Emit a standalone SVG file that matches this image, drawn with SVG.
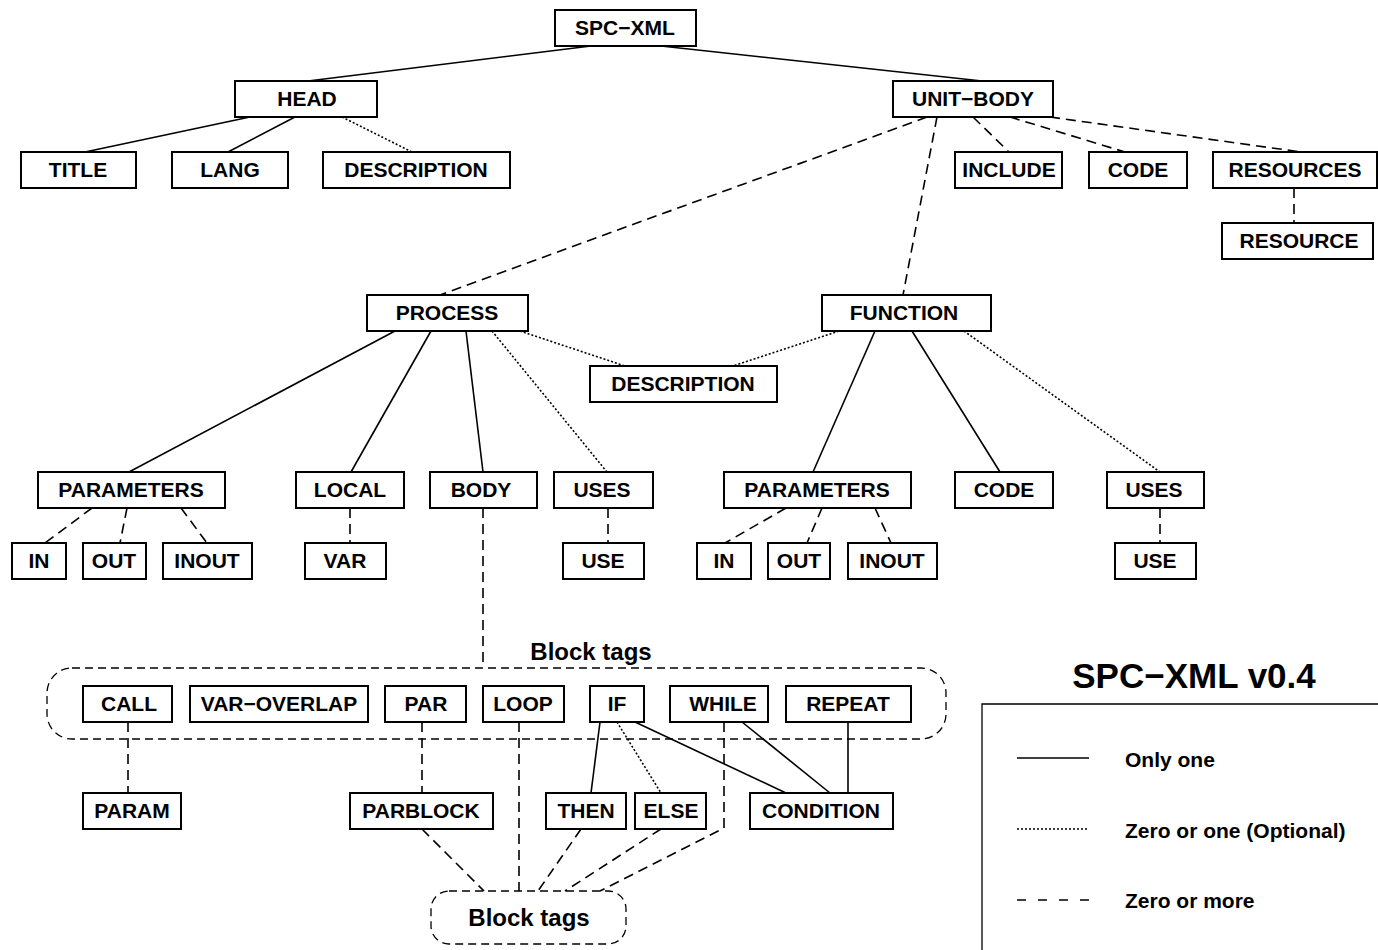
<svg xmlns="http://www.w3.org/2000/svg" width="1378" height="950" viewBox="0 0 1378 950">
<style>
.n rect{fill:#fff;stroke:#000;stroke-width:2}
.n text,.t{font-family:"Liberation Sans",Arial,sans-serif;font-weight:bold;font-size:21px;fill:#000;text-anchor:middle}
.c line,.c polyline{stroke:#000;stroke-width:1.6;fill:none}
.c .d{stroke-dasharray:10 6}
.c .o{stroke-dasharray:2 2}
.grp{fill:none;stroke:#000;stroke-width:1.3;stroke-dasharray:8 5}
</style>
<rect width="1378" height="950" fill="#fff"/>
<g class="c" id="connectors">
<line x1="591" y1="46" x2="308" y2="81"/>
<line x1="661" y1="46" x2="982" y2="81"/>
<line x1="250" y1="117" x2="85" y2="152"/>
<line x1="295" y1="117" x2="228" y2="152"/>
<line class="o" x1="342" y1="117" x2="412" y2="152"/>
<line class="d" x1="927" y1="117" x2="440" y2="295"/>
<line class="d" x1="937" y1="117" x2="903" y2="295"/>
<line class="d" x1="973" y1="117" x2="1009" y2="152"/>
<line class="d" x1="1010" y1="117" x2="1125" y2="152"/>
<line class="d" x1="1050" y1="117" x2="1301" y2="152"/>
<line class="d" x1="1294" y1="188" x2="1294" y2="223"/>
<line x1="395" y1="331" x2="129" y2="472"/>
<line x1="431" y1="331" x2="351" y2="472"/>
<line x1="466" y1="331" x2="483" y2="472"/>
<line class="o" x1="492" y1="331" x2="607" y2="472"/>
<line class="o" x1="520" y1="331" x2="625" y2="366"/>
<line class="o" x1="839" y1="331" x2="733" y2="366"/>
<line x1="875" y1="331" x2="813" y2="472"/>
<line x1="912" y1="331" x2="1000" y2="472"/>
<line class="o" x1="964" y1="331" x2="1160" y2="472"/>
<line class="d" x1="92" y1="508" x2="45" y2="543"/>
<line class="d" x1="127" y1="508" x2="120" y2="543"/>
<line class="d" x1="181" y1="508" x2="207" y2="543"/>
<line class="d" x1="350" y1="508" x2="350" y2="543"/>
<line class="d" x1="483" y1="508" x2="483" y2="668"/>
<line class="d" x1="608" y1="508" x2="608" y2="543"/>
<line class="d" x1="786" y1="508" x2="725" y2="543"/>
<line class="d" x1="822" y1="508" x2="807" y2="543"/>
<line class="d" x1="875" y1="508" x2="891" y2="543"/>
<line class="d" x1="1160" y1="508" x2="1160" y2="543"/>
<line class="d" x1="128" y1="722" x2="128" y2="793"/>
<line class="d" x1="422" y1="722" x2="422" y2="793"/>
<line class="d" x1="519" y1="722" x2="519" y2="891"/>
<line x1="600" y1="722" x2="591" y2="793"/>
<line class="o" x1="617" y1="722" x2="661" y2="793"/>
<line x1="635" y1="722" x2="786" y2="793"/>
<line x1="742" y1="722" x2="830" y2="793"/>
<line x1="848" y1="722" x2="848" y2="793"/>
<polyline class="d" points="724,722 724,828 600,891"/>
<line class="d" x1="422" y1="829" x2="484" y2="891"/>
<line class="d" x1="581" y1="829" x2="538" y2="891"/>
<line class="d" x1="661" y1="829" x2="565" y2="891"/>
</g>
<rect class="grp" x="47" y="668" width="899" height="71" rx="25"/>
<text class="t" x="591" y="660" style="font-size:24px">Block tags</text>
<g id="blocktags2"><rect class="grp" x="431" y="891" width="195" height="53" rx="18"/><text class="t" x="529" y="926" style="font-size:24px">Block tags</text></g>
<g class="n" id="spcxml"><rect x="555" y="10" width="141" height="36"/><text x="625" y="35">SPC−XML</text></g>
<g class="n" id="head"><rect x="235" y="81" width="142" height="36"/><text x="307" y="106">HEAD</text></g>
<g class="n" id="unitbody"><rect x="893" y="81" width="160" height="36"/><text x="973" y="106">UNIT−BODY</text></g>
<g class="n" id="title"><rect x="21" y="152" width="115" height="36"/><text x="78" y="177">TITLE</text></g>
<g class="n" id="lang"><rect x="172" y="152" width="116" height="36"/><text x="230" y="177">LANG</text></g>
<g class="n" id="description1"><rect x="323" y="152" width="187" height="36"/><text x="416" y="177">DESCRIPTION</text></g>
<g class="n" id="include"><rect x="955" y="152" width="107" height="36"/><text x="1009" y="177">INCLUDE</text></g>
<g class="n" id="code1"><rect x="1089" y="152" width="98" height="36"/><text x="1138" y="177">CODE</text></g>
<g class="n" id="resources"><rect x="1213" y="152" width="164" height="36"/><text x="1295" y="177">RESOURCES</text></g>
<g class="n" id="resource"><rect x="1222" y="223" width="151" height="36"/><text x="1299" y="248">RESOURCE</text></g>
<g class="n" id="process"><rect x="367" y="295" width="161" height="36"/><text x="447" y="320">PROCESS</text></g>
<g class="n" id="function"><rect x="822" y="295" width="169" height="36"/><text x="904" y="320">FUNCTION</text></g>
<g class="n" id="description2"><rect x="590" y="366" width="187" height="36"/><text x="683" y="391">DESCRIPTION</text></g>
<g class="n" id="parameters1"><rect x="38" y="472" width="187" height="36"/><text x="131" y="497">PARAMETERS</text></g>
<g class="n" id="local"><rect x="296" y="472" width="108" height="36"/><text x="350" y="497">LOCAL</text></g>
<g class="n" id="body"><rect x="430" y="472" width="107" height="36"/><text x="481" y="497">BODY</text></g>
<g class="n" id="uses1"><rect x="554" y="472" width="99" height="36"/><text x="602" y="497">USES</text></g>
<g class="n" id="in1"><rect x="12" y="543" width="54" height="36"/><text x="39" y="568">IN</text></g>
<g class="n" id="out1"><rect x="83" y="543" width="63" height="36"/><text x="114" y="568">OUT</text></g>
<g class="n" id="inout1"><rect x="163" y="543" width="89" height="36"/><text x="207" y="568">INOUT</text></g>
<g class="n" id="var"><rect x="305" y="543" width="81" height="36"/><text x="345" y="568">VAR</text></g>
<g class="n" id="use1"><rect x="563" y="543" width="81" height="36"/><text x="603" y="568">USE</text></g>
<g class="n" id="parameters2"><rect x="724" y="472" width="187" height="36"/><text x="817" y="497">PARAMETERS</text></g>
<g class="n" id="code2"><rect x="955" y="472" width="98" height="36"/><text x="1004" y="497">CODE</text></g>
<g class="n" id="uses2"><rect x="1107" y="472" width="97" height="36"/><text x="1154" y="497">USES</text></g>
<g class="n" id="in2"><rect x="697" y="543" width="54" height="36"/><text x="724" y="568">IN</text></g>
<g class="n" id="out2"><rect x="768" y="543" width="62" height="36"/><text x="799" y="568">OUT</text></g>
<g class="n" id="inout2"><rect x="848" y="543" width="89" height="36"/><text x="892" y="568">INOUT</text></g>
<g class="n" id="use2"><rect x="1115" y="543" width="81" height="36"/><text x="1155" y="568">USE</text></g>
<g class="n" id="call"><rect x="83" y="686" width="89" height="36"/><text x="129" y="711">CALL</text></g>
<g class="n" id="varoverlap"><rect x="190" y="686" width="178" height="36"/><text x="279" y="711">VAR−OVERLAP</text></g>
<g class="n" id="par"><rect x="385" y="686" width="81" height="36"/><text x="426" y="711">PAR</text></g>
<g class="n" id="loop"><rect x="483" y="686" width="81" height="36"/><text x="523" y="711">LOOP</text></g>
<g class="n" id="if"><rect x="590" y="686" width="54" height="36"/><text x="617" y="711">IF</text></g>
<g class="n" id="while"><rect x="670" y="686" width="98" height="36"/><text x="723" y="711">WHILE</text></g>
<g class="n" id="repeat"><rect x="786" y="686" width="125" height="36"/><text x="848" y="711">REPEAT</text></g>
<g class="n" id="param"><rect x="83" y="793" width="98" height="36"/><text x="132" y="818">PARAM</text></g>
<g class="n" id="parblock"><rect x="350" y="793" width="143" height="36"/><text x="421" y="818">PARBLOCK</text></g>
<g class="n" id="then"><rect x="546" y="793" width="80" height="36"/><text x="586" y="818">THEN</text></g>
<g class="n" id="else"><rect x="635" y="793" width="71" height="36"/><text x="671" y="818">ELSE</text></g>
<g class="n" id="condition"><rect x="750" y="793" width="143" height="36"/><text x="821" y="818">CONDITION</text></g>
<g id="legend">
<text class="t" x="1194" y="688" style="font-size:35px">SPC−XML v0.4</text>
<path d="M982,950 V704 H1380" fill="none" stroke="#000" stroke-width="1.3"/>
<line x1="1017" y1="758" x2="1089" y2="758" stroke="#000" stroke-width="1.6"/>
<line x1="1017" y1="829" x2="1089" y2="829" stroke="#000" stroke-width="1.6" stroke-dasharray="2 2"/>
<line x1="1017" y1="900" x2="1089" y2="900" stroke="#000" stroke-width="1.6" stroke-dasharray="9 12"/>
<text class="t" x="1125" y="767" style="text-anchor:start">Only one</text>
<text class="t" x="1125" y="838" style="text-anchor:start">Zero or one (Optional)</text>
<text class="t" x="1125" y="908" style="text-anchor:start">Zero or more</text>
</g>
</svg>
